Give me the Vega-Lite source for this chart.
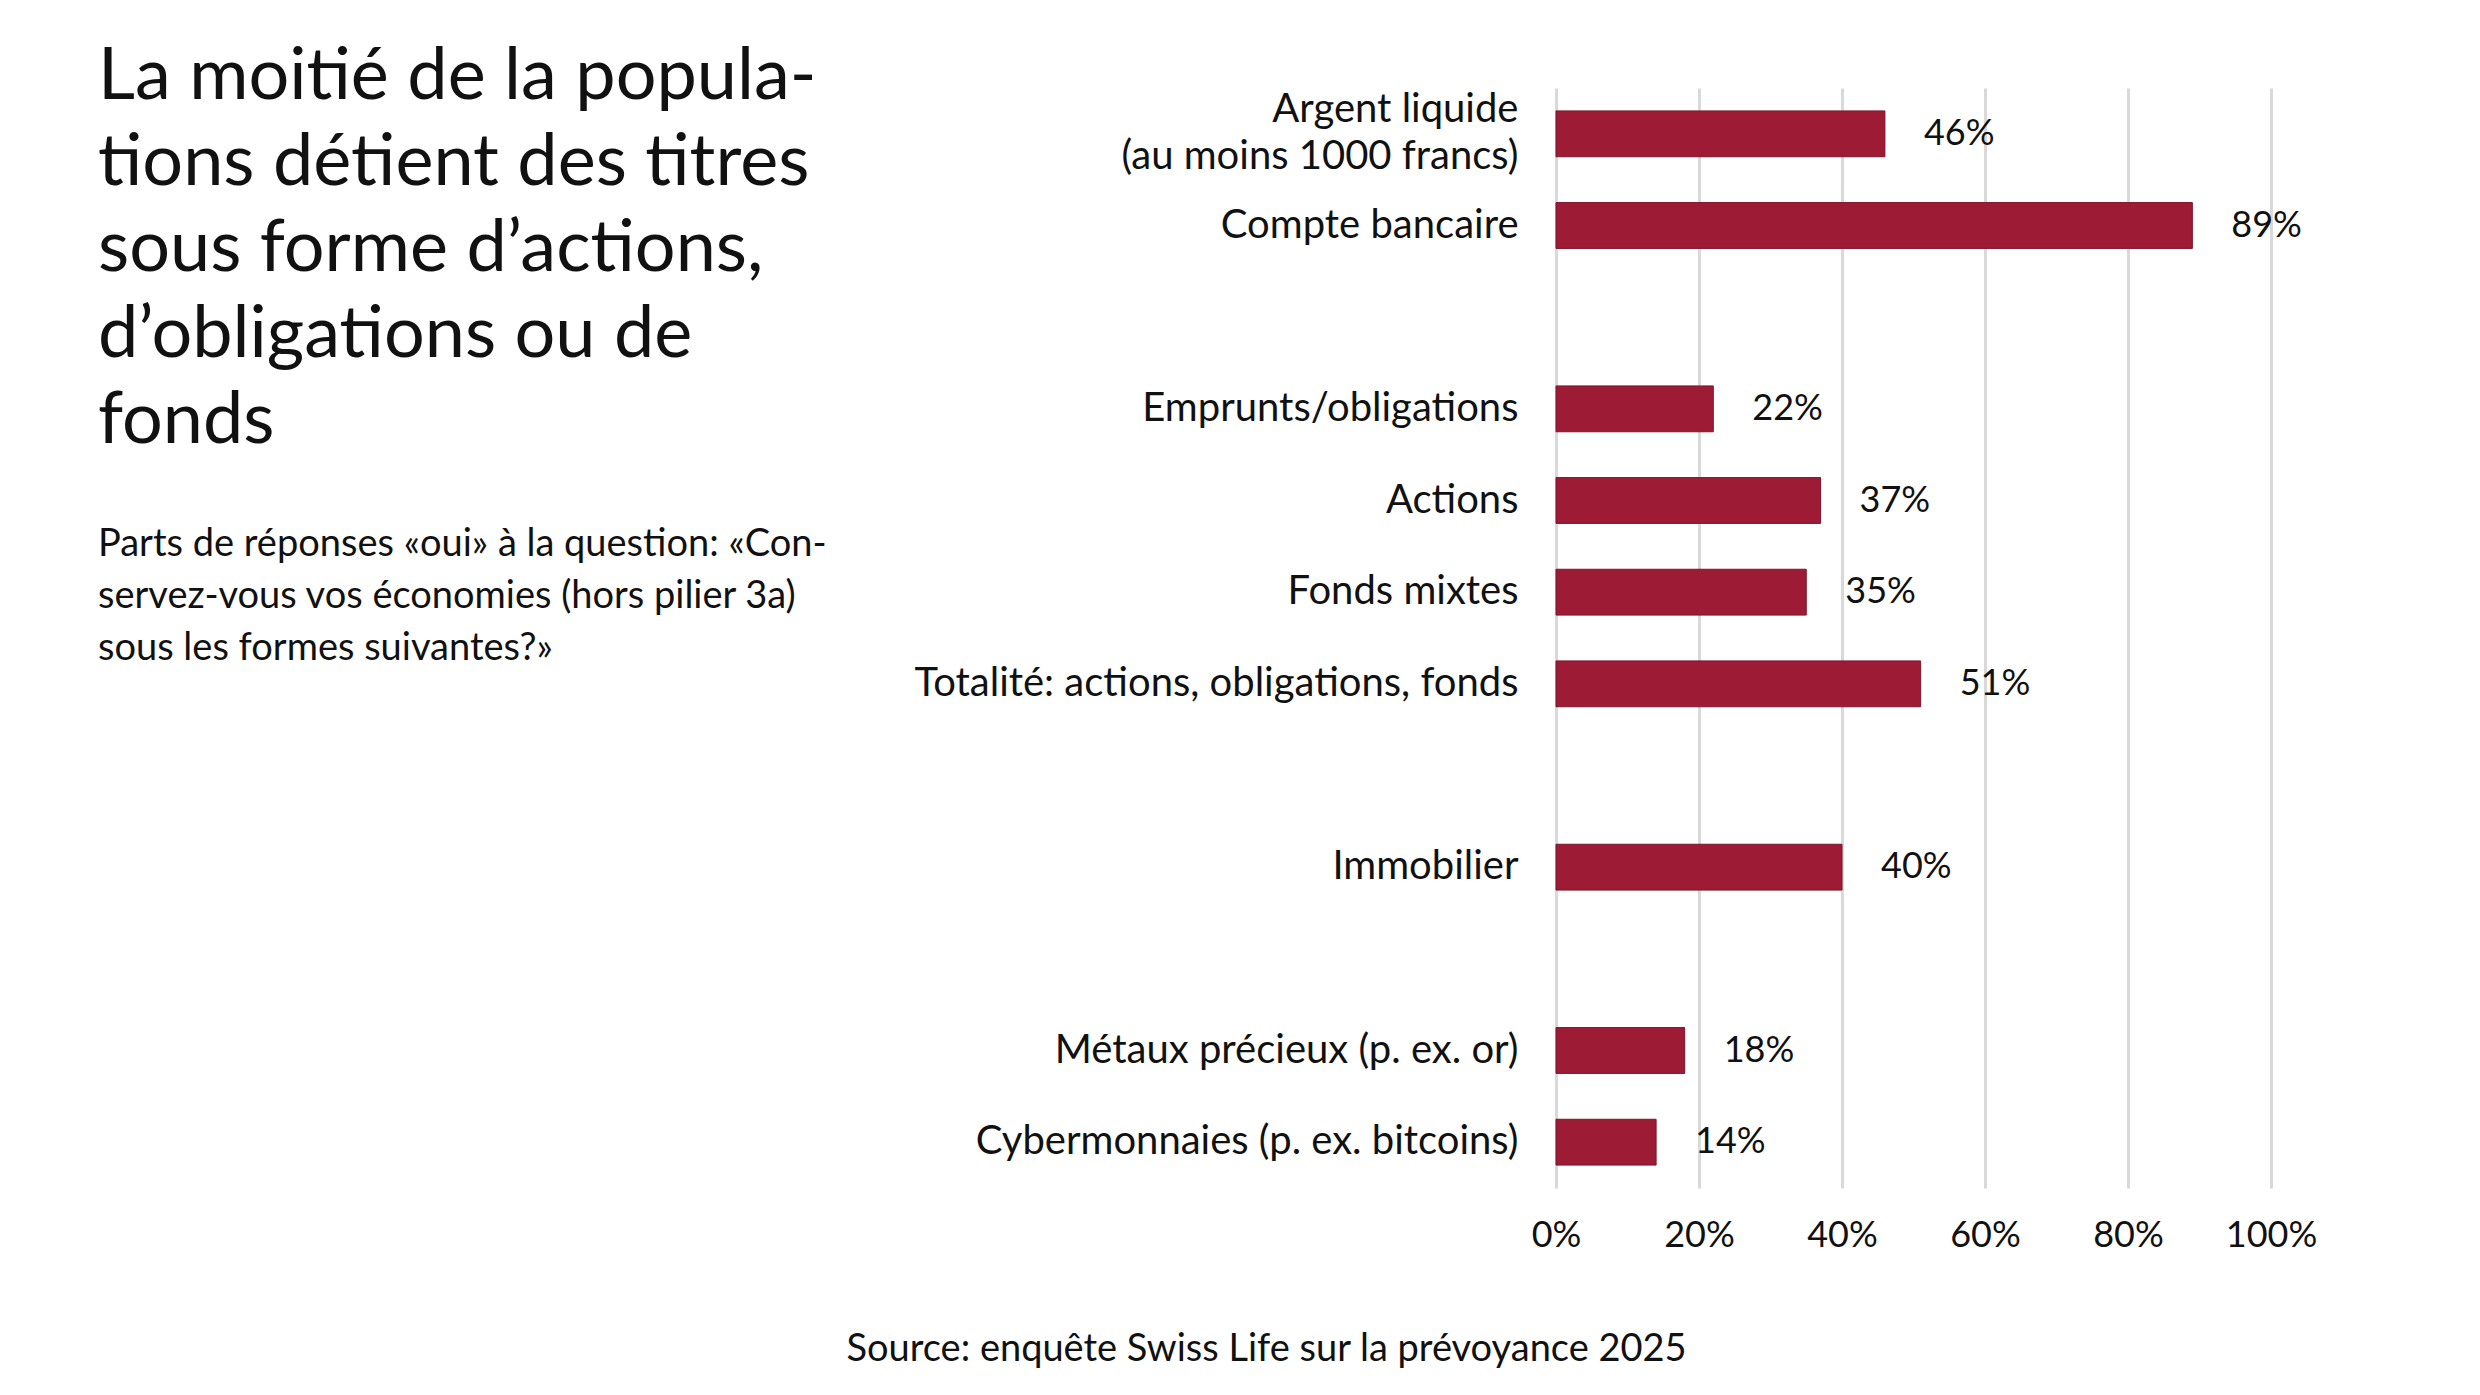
{
  "$schema": "https://vega.github.io/schema/vega-lite/v6.json",
  "width": 715,
  "height": 1100,
  "autosize": {"type": "none"},
  "padding": {"left": 1556, "top": 88, "right": 209, "bottom": 207},
  "background": "white",
  "config": {"font": "Lato", "view": {"stroke": null}},
  "title": {
    "text": ["La moitié de la popula-", "tions détient des titres", "sous forme d’actions,", "d’obligations ou de", "fonds"],
    "subtitle": ["Parts de réponses «oui» à la question: «Con-", "servez-vous  vos  économies  (hors  pilier  3a)", "sous les formes suivantes?»"],
    "anchor": "start",
    "frame": "group",
    "orient": "top",
    "dx": -1458,
    "dy": 585,
    "font": "Lato",
    "fontSize": 72,
    "fontWeight": "normal",
    "lineHeight": 86,
    "color": "#111111",
    "subtitleFont": "Lato",
    "subtitleFontSize": 38,
    "subtitleLineHeight": 52,
    "subtitleColor": "#111111",
    "subtitlePadding": 68
  },
  "data": {
    "values": [
      {"cat": "Argent liquide|(au moins 1000 francs)", "value": 0.46},
      {"cat": "Compte bancaire", "value": 0.89},
      {"cat": "Emprunts/obligations", "value": 0.22},
      {"cat": "Actions", "value": 0.37},
      {"cat": "Fonds mixtes", "value": 0.35},
      {"cat": "Totalité: actions, obligations, fonds", "value": 0.51},
      {"cat": "Immobilier", "value": 0.40},
      {"cat": "Métaux précieux (p. ex. or)", "value": 0.18},
      {"cat": "Cybermonnaies (p. ex. bitcoins)", "value": 0.14}
    ]
  },
  "encoding": {
    "y": {
      "field": "cat",
      "type": "nominal",
      "sort": null,
      "scale": {
        "domain": ["Argent liquide|(au moins 1000 francs)", "Compte bancaire", "_1", "Emprunts/obligations", "Actions", "Fonds mixtes", "Totalité: actions, obligations, fonds", "_2", "Immobilier", "_3", "Métaux précieux (p. ex. or)", "Cybermonnaies (p. ex. bitcoins)"],
        "paddingInner": 0.5,
        "paddingOuter": 0.25
      },
      "axis": {
        "title": null,
        "ticks": false,
        "domain": false,
        "grid": false,
        "labelFontSize": 40,
        "labelColor": "#111111",
        "labelPadding": 38,
        "labelLimit": 1000,
        "labelLineHeight": 47,
        "labelExpr": "indexof(datum.label, '_') == 0 ? '' : split(datum.label, '|')",
        "labelOffset": {"condition": {"test": "indexof(datum.value, '|') >= 0", "value": -24}, "value": 0}
      }
    },
    "x": {
      "field": "value",
      "type": "quantitative",
      "scale": {"domain": [0, 1], "nice": false},
      "axis": {
        "values": [0, 0.2, 0.4, 0.6, 0.8, 1],
        "format": ".0%",
        "grid": true,
        "gridColor": "#d9d9d9",
        "gridWidth": 3,
        "domain": false,
        "ticks": false,
        "labelFlush": false,
        "labelPadding": 30,
        "labelFontSize": 36,
        "labelColor": "#111111",
        "title": "Source: enquête Swiss Life sur la prévoyance 2025",
        "titleFontSize": 38,
        "titleFontWeight": "normal",
        "titleColor": "#111111",
        "titleX": -710,
        "titleY": 172,
        "titleAlign": "left",
        "titleBaseline": "alphabetic",
        "titleAngle": 0
      }
    }
  },
  "layer": [
    {
      "mark": {"type": "bar", "color": "#9e1b36", "stroke": "#7d1529", "strokeWidth": 1}
    },
    {
      "mark": {"type": "text", "align": "left", "baseline": "middle", "dx": 39, "fontSize": 36, "color": "#111111"},
      "encoding": {"text": {"field": "value", "type": "quantitative", "format": ".0%"}}
    }
  ]
}
